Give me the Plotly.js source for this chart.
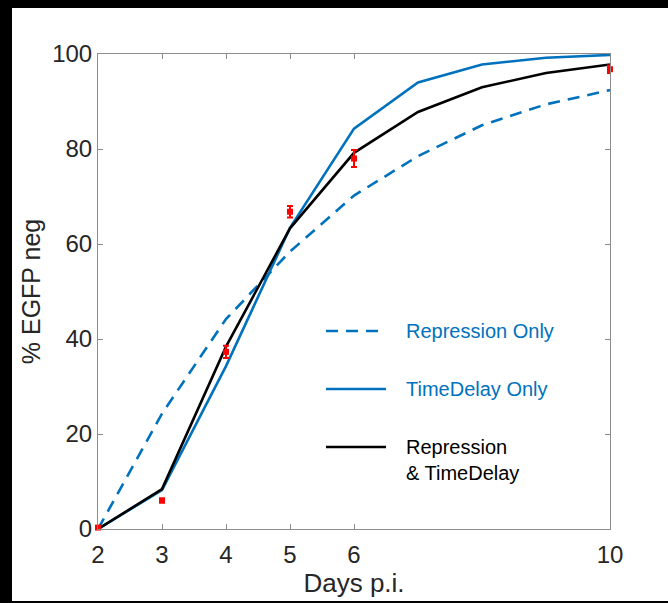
<!DOCTYPE html>
<html>
<head>
<meta charset="utf-8">
<script src="https://cdn.plot.ly/plotly-3.0.1.min.js"></script>
<style>
html,body{margin:0;padding:0;background:#000;width:668px;height:603px;overflow:hidden;}
#chart{position:absolute;left:12px;top:8px;width:656px;height:593px;background:#fff;}
</style>
</head>
<body>
<div id="chart"></div>
<script>
// Data
const days = [2, 3, 4, 5, 6, 7, 8, 9, 10];
const repressionOnly = [0, 24.3, 44.2, 58.4, 70.2, 78.5, 85.0, 89.4, 92.4];
const timeDelayOnly = [0, 8.2, 34.3, 63.4, 84.3, 94.0, 97.8, 99.2, 99.8];
const repressionTimeDelay = [0, 8.4, 38.4, 63.3, 79.2, 87.8, 93.0, 96.0, 97.8];

const expDays = [2, 3, 4, 5, 6, 10];
const expValues = [0.3, 6.0, 37.3, 66.8, 78.0, 96.8];
const expErrors = [0.3, 0.4, 1.3, 1.2, 1.8, 0.8];

const legendLabels = ["Repression Only", "TimeDelay Only", "Repression<br>& TimeDelay"];
const xTicks = [2, 3, 4, 5, 6, 10];
const yTicks = [0, 20, 40, 60, 80, 100];

const BLUE = "#0072BD";
const FONT = "Liberation Sans, Arial, Helvetica, sans-serif";

const traces = [
  {x: days, y: repressionOnly, mode: "lines", line: {color: BLUE, width: 2.6, dash: "12px,8px"}, showlegend: false},
  {x: days, y: timeDelayOnly, mode: "lines", line: {color: BLUE, width: 2.6}, showlegend: false},
  {x: days, y: repressionTimeDelay, mode: "lines", line: {color: "#000", width: 2.6}, showlegend: false},
  {x: expDays, y: expValues, mode: "markers", marker: {color: "#ff0000", size: 6, symbol: "square"},
   error_y: {type: "data", array: expErrors, visible: true, color: "#ff0000", thickness: 2, width: 3},
   showlegend: false, cliponaxis: false}
];

// Legend placement helpers (pixel -> paper) within plot area
const PL = 98 - 12, PT = 54 - 8, PW = 512, PH = 475;
function px(x){ return (x - 98) / PW; }
function py(y){ return (529 - y) / PH; }

const legendRows = [
  {y: 331, color: BLUE, dash: "12px,8px", text: legendLabels[0], tcolor: BLUE, ty: 331},
  {y: 389, color: BLUE, dash: "solid", text: legendLabels[1], tcolor: BLUE, ty: 389},
  {y: 447, color: "#000", dash: "solid", text: legendLabels[2], tcolor: "#000", ty: 460}
];

const shapes = legendRows.map(r => ({
  type: "line", xref: "paper", yref: "paper",
  x0: px(326), x1: px(386), y0: py(r.y), y1: py(r.y),
  line: {color: r.color, width: 2.6, dash: r.dash}
}));

const annotations = legendRows.map(r => ({
  xref: "paper", yref: "paper", x: px(404), y: py(r.ty),
  xanchor: "left", yanchor: "middle", showarrow: false, align: "left",
  text: r.text, font: {family: FONT, size: 20, color: r.tcolor}
}));

const axisCommon = {
  showgrid: false, zeroline: false, showline: true, linecolor: "#8c8c8c", linewidth: 1,
  mirror: "ticks", ticks: "inside", ticklen: 5, tickwidth: 1, tickcolor: "#8c8c8c",
  tickfont: {family: FONT, size: 24, color: "#262626"}
};

const layout = {
  width: 656, height: 593,
  margin: {l: PL, r: 58, t: PT, b: 72},
  paper_bgcolor: "#fff", plot_bgcolor: "#fff",
  xaxis: Object.assign({}, axisCommon, {
    range: [2, 10], tickvals: xTicks, ticktext: xTicks.map(String), ticklabelstandoff: 4,
    title: {text: "Days p.i.", font: {family: FONT, size: 26, color: "#262626"}, standoff: 6}
  }),
  yaxis: Object.assign({}, axisCommon, {
    range: [0, 100], tickvals: yTicks, ticktext: yTicks.map(String),
    title: {text: "% EGFP neg", font: {family: FONT, size: 25, color: "#262626"}, standoff: 4}
  }),
  shapes: shapes, annotations: annotations, showlegend: false
};

Plotly.newPlot("chart", traces, layout, {displayModeBar: false, staticPlot: true});
</script>
</body>
</html>
